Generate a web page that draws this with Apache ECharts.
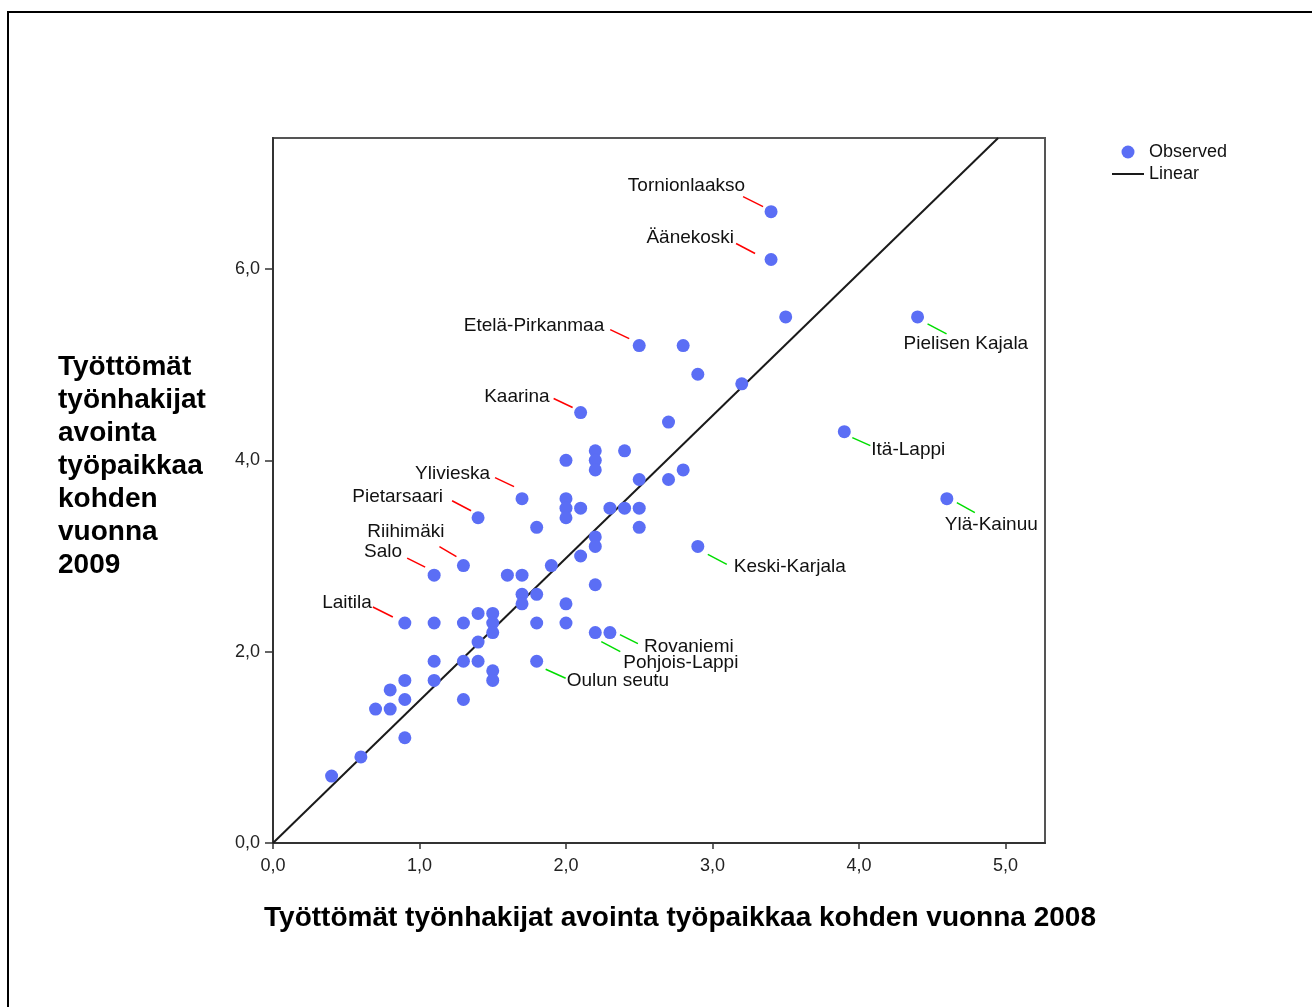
<!DOCTYPE html>
<html>
<head>
<meta charset="utf-8">
<title>Työttömät työnhakijat avointa työpaikkaa kohden</title>
<script src="https://cdn.jsdelivr.net/npm/echarts@6/dist/echarts.min.js"></script>
<style>
  html, body { margin: 0; padding: 0; background: #fff; }
  #chart { width: 1312px; height: 1007px; }
</style>
</head>
<body>
<div id="chart"></div>
<script>
// havaintoarvot: x = vuosi 2008, y = vuosi 2009
const x2008 = [
  3.4, 3.4, 3.5, 4.4, 2.5, 2.8, 2.9, 3.2, 2.1, 2.7, 3.9, 2.2, 2.4, 2.0, 2.2, 2.2, 2.8, 2.5, 2.7,
  1.7, 2.0, 4.6, 2.0, 2.1, 2.3, 2.4, 2.5, 1.4, 2.0, 1.8, 2.5, 2.2, 2.2, 2.9, 2.1, 1.9, 1.3,
  1.1, 1.6, 1.7, 2.2, 1.7, 1.8, 1.7, 2.0, 1.4, 1.5, 0.9, 1.1, 1.3, 1.5, 1.8, 2.0, 1.5, 2.2,
  2.3, 1.4, 1.1, 1.3, 1.4, 1.8, 1.5, 0.9, 1.1, 1.5, 0.8, 0.9, 1.3, 0.7, 0.8, 0.9, 0.6, 0.4
];
const y2009 = [
  6.6, 6.1, 5.5, 5.5, 5.2, 5.2, 4.9, 4.8, 4.5, 4.4, 4.3, 4.1, 4.1, 4.0, 4.0, 3.9, 3.9, 3.8, 3.8,
  3.6, 3.6, 3.6, 3.5, 3.5, 3.5, 3.5, 3.5, 3.4, 3.4, 3.3, 3.3, 3.2, 3.1, 3.1, 3.0, 2.9, 2.9,
  2.8, 2.8, 2.8, 2.7, 2.6, 2.6, 2.5, 2.5, 2.4, 2.4, 2.3, 2.3, 2.3, 2.3, 2.3, 2.3, 2.2, 2.2,
  2.2, 2.1, 1.9, 1.9, 1.9, 1.9, 1.8, 1.7, 1.7, 1.7, 1.6, 1.5, 1.5, 1.4, 1.4, 1.1, 0.9, 0.7
];

// nimetyt alueet
const labelNames = [
  'Tornionlaakso', 'Äänekoski', 'Etelä-Pirkanmaa', 'Kaarina', 'Ylivieska', 'Pietarsaari',
  'Riihimäki', 'Salo', 'Laitila',
  'Pielisen Kajala', 'Itä-Lappi', 'Ylä-Kainuu', 'Keski-Karjala', 'Rovaniemi', 'Pohjois-Lappi', 'Oulun seutu'
];
const labelX = [3.4, 3.4, 2.5, 2.1, 1.7, 1.4, 1.3, 1.1, 0.9, 4.4, 3.9, 4.6, 2.9, 2.3, 2.2, 1.8];
const labelY = [6.6, 6.1, 5.2, 4.5, 3.6, 3.4, 2.9, 2.8, 2.3, 5.5, 4.3, 3.6, 3.1, 2.2, 2.2, 1.9];

// sovitettu suora (Linear)
const linearX = [0, 4.95];
const linearY = [0, 7.37];

const xTicks = [0, 1, 2, 3, 4, 5];
const yTicks = [0, 2, 4, 6];

// nimiöiden sijoittelu pisteeseen nähden (px): viiva x1,y1,x2,y2, teksti x,y, tasaus
const labelLayout = [
  [-28, -15, -8, -5, -26, -26, 'right'],
  [-35, -16, -16, -6, -37, -22, 'right'],
  [-29, -16, -10, -7, -35, -20, 'right'],
  [-27, -14, -8, -5, -31, -16, 'right'],
  [-27, -21, -8, -12, -32, -25, 'right'],
  [-26, -17, -7, -7, -35, -21, 'right'],
  [-24, -19, -7, -9, -19, -34, 'right'],
  [-27, -17, -9, -8, -32, -23, 'right'],
  [-32, -16, -12, -6, -33, -20, 'right'],
  [10, 7, 29, 17, -14, 27, 'left'],
  [8, 6, 26, 14, 27, 18, 'left'],
  [10, 4, 28, 14, -2, 26, 'left'],
  [10, 8, 29, 18, 36, 20, 'left'],
  [10, 2, 28, 11, 34, 14, 'left'],
  [6, 9, 25, 19, 28, 30, 'left'],
  [9, 8, 29, 17, 30, 20, 'left']
];

const FONT = '"Liberation Sans", Arial, sans-serif';
const fmt = function (v) { return v.toFixed(1).replace('.', ','); };

const chart = echarts.init(document.getElementById('chart'));

chart.setOption({
  backgroundColor: '#fff',
  animation: false,
  textStyle: { fontFamily: FONT },
  grid: {
    left: 273, right: 267, top: 138, bottom: 164,
    containLabel: false,
    outerBoundsMode: 'none',
    show: true,
    borderColor: '#555',
    borderWidth: 2
  },
  legend: {
    orient: 'vertical',
    left: 1111,
    top: 143,
    padding: 0,
    itemWidth: 32,
    itemHeight: 13,
    itemGap: 4,
    data: [
      { name: 'Observed', icon: 'circle' },
      { name: 'Linear', itemStyle: { opacity: 0 } }
    ],
    textStyle: { fontSize: 18, color: '#111', fontFamily: FONT }
  },
  xAxis: {
    type: 'value',
    min: 0,
    max: 5.27,
    axisLine: { show: true, onZero: false, lineStyle: { color: '#333', width: 2 } },
    axisTick: { show: true, length: 6, customValues: xTicks, lineStyle: { color: '#333', width: 1.5 } },
    axisLabel: { customValues: xTicks, formatter: fmt, fontSize: 18, color: '#222', margin: 14, fontFamily: FONT },
    splitLine: { show: false }
  },
  yAxis: {
    type: 'value',
    min: 0,
    max: 7.37,
    axisLine: { show: true, onZero: false, lineStyle: { color: '#333', width: 2 } },
    axisTick: { show: true, length: 8, customValues: yTicks, lineStyle: { color: '#333', width: 1.5 } },
    axisLabel: { customValues: yTicks, formatter: fmt, fontSize: 18, color: '#222', margin: 13, fontFamily: FONT },
    splitLine: { show: false }
  },
  graphic: [
    {
      type: 'rect',
      shape: { x: 8, y: 12, width: 1400, height: 1100 },
      style: { fill: null, stroke: '#000', lineWidth: 2 },
      silent: true
    },
    {
      type: 'text',
      x: 680,
      y: 918,
      style: {
        text: 'Työttömät työnhakijat avointa työpaikkaa kohden vuonna 2008',
        font: 'bold 28px ' + FONT,
        fill: '#000',
        align: 'center',
        verticalAlign: 'middle'
      }
    },
    {
      type: 'text',
      x: 58,
      y: 351,
      style: {
        text: 'Työttömät\ntyönhakijat\navointa\ntyöpaikkaa\nkohden\nvuonna\n2009',
        font: 'bold 28px ' + FONT,
        lineHeight: 33,
        fill: '#000',
        align: 'left',
        verticalAlign: 'top'
      }
    }
  ],
  series: [
    {
      name: 'Observed',
      type: 'scatter',
      symbol: 'circle',
      symbolSize: 13,
      itemStyle: { color: '#5b6ef5', opacity: 1 },
      data: x2008.map(function (x, i) { return [x, y2009[i]]; }),
      z: 3
    },
    {
      name: 'Linear',
      type: 'line',
      showSymbol: false,
      symbol: 'none',
      lineStyle: { color: '#1a1a1a', width: 2 },
      itemStyle: { color: '#1a1a1a' },
      data: linearX.map(function (x, i) { return [x, linearY[i]]; }),
      z: 2
    },
    {
      name: 'labels',
      type: 'custom',
      clip: false,
      silent: true,
      z: 4,
      data: labelX.map(function (x, i) { return [x, labelY[i], i]; }),
      renderItem: function (params, api) {
        const p = api.coord([api.value(0), api.value(1)]);
        const i = api.value(2);
        const l = labelLayout[i];
        const col = l[6] === 'right' ? '#ff0000' : '#00dd00';
        return {
          type: 'group',
          children: [
            {
              type: 'line',
              shape: { x1: p[0] + l[0], y1: p[1] + l[1], x2: p[0] + l[2], y2: p[1] + l[3] },
              style: { stroke: col, lineWidth: 1.5 }
            },
            {
              type: 'text',
              style: {
                text: labelNames[i],
                x: p[0] + l[4],
                y: p[1] + l[5],
                align: l[6],
                verticalAlign: 'middle',
                font: '19px ' + FONT,
                fill: '#111'
              }
            }
          ]
        };
      }
    }
  ]
});
</script>
</body>
</html>
